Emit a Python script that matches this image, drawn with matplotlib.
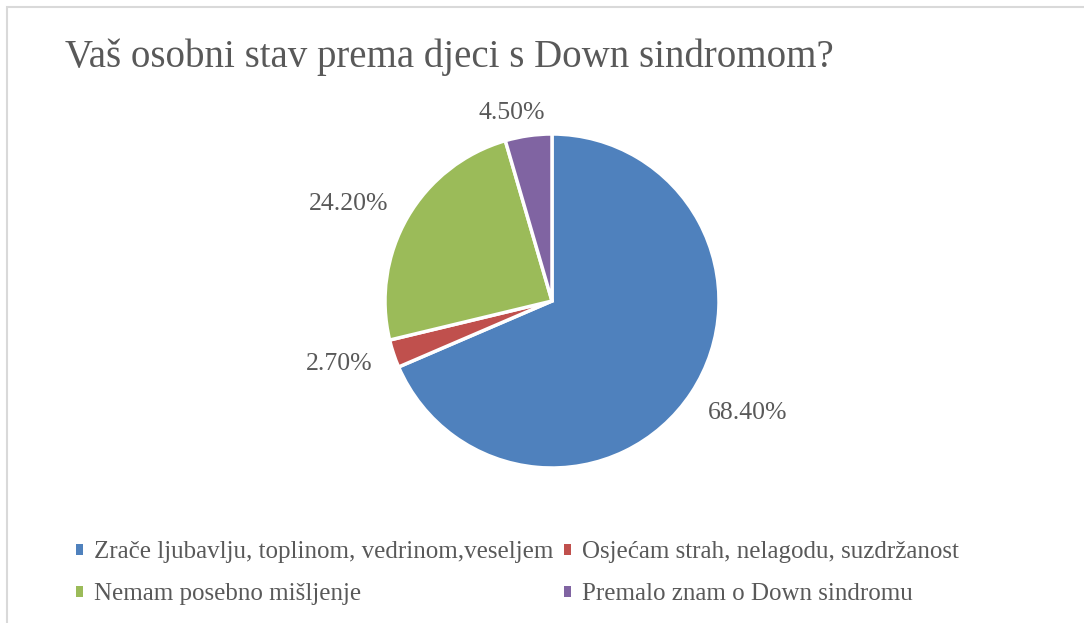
import numpy as np
import matplotlib
matplotlib.use("Agg")
import matplotlib.pyplot as plt
from matplotlib.patches import Rectangle, Patch

# data
categories = [
    "Zrače ljubavlju, toplinom, vedrinom,veseljem",
    "Osjećam strah, nelagodu, suzdržanost",
    "Nemam posebno mišljenje",
    "Premalo znam o Down sindromu",
]
shares = [68.4, 2.7, 24.2, 4.5]
colors = ["#4F81BD", "#C0504D", "#9BBB59", "#8064A2"]
title = "Vaš osobni stav prema djeci s Down sindromom?"

TXT = "#595959"
plt.rcParams["font.family"] = ["Liberation Serif", "DejaVu Serif"]

W, H = 1084, 623
fig = plt.figure(figsize=(W / 100, H / 100), dpi=100)

# chart frame (runs off the right/bottom edge)
fig.patches.append(Rectangle((7 / W, -0.1), 1.2, 1 - 7 / H + 0.1,
                             transform=fig.transFigure, fill=False,
                             edgecolor="#D9D9D9", linewidth=1.5))

cx, cy, r = 552, 301, 167
ax = fig.add_axes([(cx - r) / W, (H - cy - r) / H, 2 * r / W, 2 * r / H])
wedges, _ = ax.pie(shares, colors=colors, startangle=90, counterclock=False,
                   radius=1, normalize=True,
                   wedgeprops=dict(edgecolor="white", linewidth=2.5))
ax.set_xlim(-1, 1)
ax.set_ylim(-1, 1)
ax.axis("off")

# data labels outside the pie (best-fit placement, like the original)
label_dist = [1.35, 1.33, 1.35, 1.15]
label_nudge = [3.5, -2.0, 4.5, 4.0]
for w, v, d, n in zip(wedges, shares, label_dist, label_nudge):
    ang = np.deg2rad((w.theta1 + w.theta2) / 2 + n)
    ax.text(d * np.cos(ang), d * np.sin(ang), f"{v:.2f}%", ha="center",
            va="center", fontsize=18.5, color=TXT)

fig.text(65 / W, 1 - 57 / H, title, fontsize=28, color=TXT, va="center")

order = [0, 2, 1, 3]
handles = [Patch(facecolor=colors[i], edgecolor="none") for i in order]
fig.legend(handles, [categories[i] for i in order],
           ncol=2, loc="center left", bbox_to_anchor=(53 / W, 1 - 573 / H),
           frameon=False, fontsize=18, labelcolor=TXT, handlelength=0.3,
           handleheight=0.3, handletextpad=0.45, columnspacing=0.4,
           labelspacing=0.8)

fig.savefig("out.png", dpi=100)
